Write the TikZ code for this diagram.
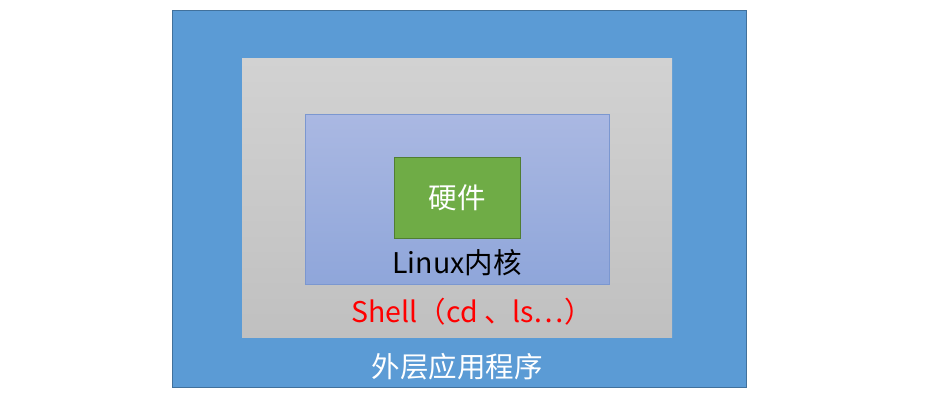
\documentclass[tikz,border=0pt]{standalone}
\usepackage{fontspec}
\setmainfont{Noto Sans CJK SC}
\newfontfamily\cjk{Noto Sans CJK SC}
\definecolor{outerblue}{HTML}{5B9BD5}
\definecolor{outeredge}{HTML}{41719C}
\definecolor{graytop}{HTML}{D2D2D2}
\definecolor{graybot}{HTML}{C0C0C0}
\definecolor{purtop}{HTML}{AAB8E2}
\definecolor{purbot}{HTML}{8FA6DA}
\definecolor{puredge}{HTML}{7B97D0}
\definecolor{hwgreen}{HTML}{6FAC46}
\definecolor{hwedge}{HTML}{507E32}
\tikzset{
  layer/.style={inner sep=0pt, outer sep=0pt, line width=0.8pt},
  lbl/.style={font=\cjk\fontsize{28.5}{32}\selectfont, inner sep=0pt}
}
\begin{document}
\begin{tikzpicture}[x=1pt,y=-1pt]
\useasboundingbox (0,0) rectangle (934,400);
\fill[white] (0,0) rectangle (934,400);
\draw[layer, fill=outerblue, draw=outeredge] (172,10) rectangle (746,387);
\shade[top color=graytop, bottom color=graybot] (242,58) rectangle (672,337);
\draw[layer, top color=purtop, bottom color=purbot, draw=puredge] (305,114) rectangle (609,284);
\draw[layer, fill=hwgreen, draw=hwedge] (394,157) rectangle (520,238);
\node[lbl, text=white] (hw) at (457,198) {硬件};
\node[lbl, text=black] (kernel) at (457,263) {Linux内核};
\node[lbl, text=red] (shell) at (472,312) {Shell（cd 、ls…）};
\node[lbl, text=white] (app) at (457,367) {外层应用程序};
\end{tikzpicture}
\end{document}
